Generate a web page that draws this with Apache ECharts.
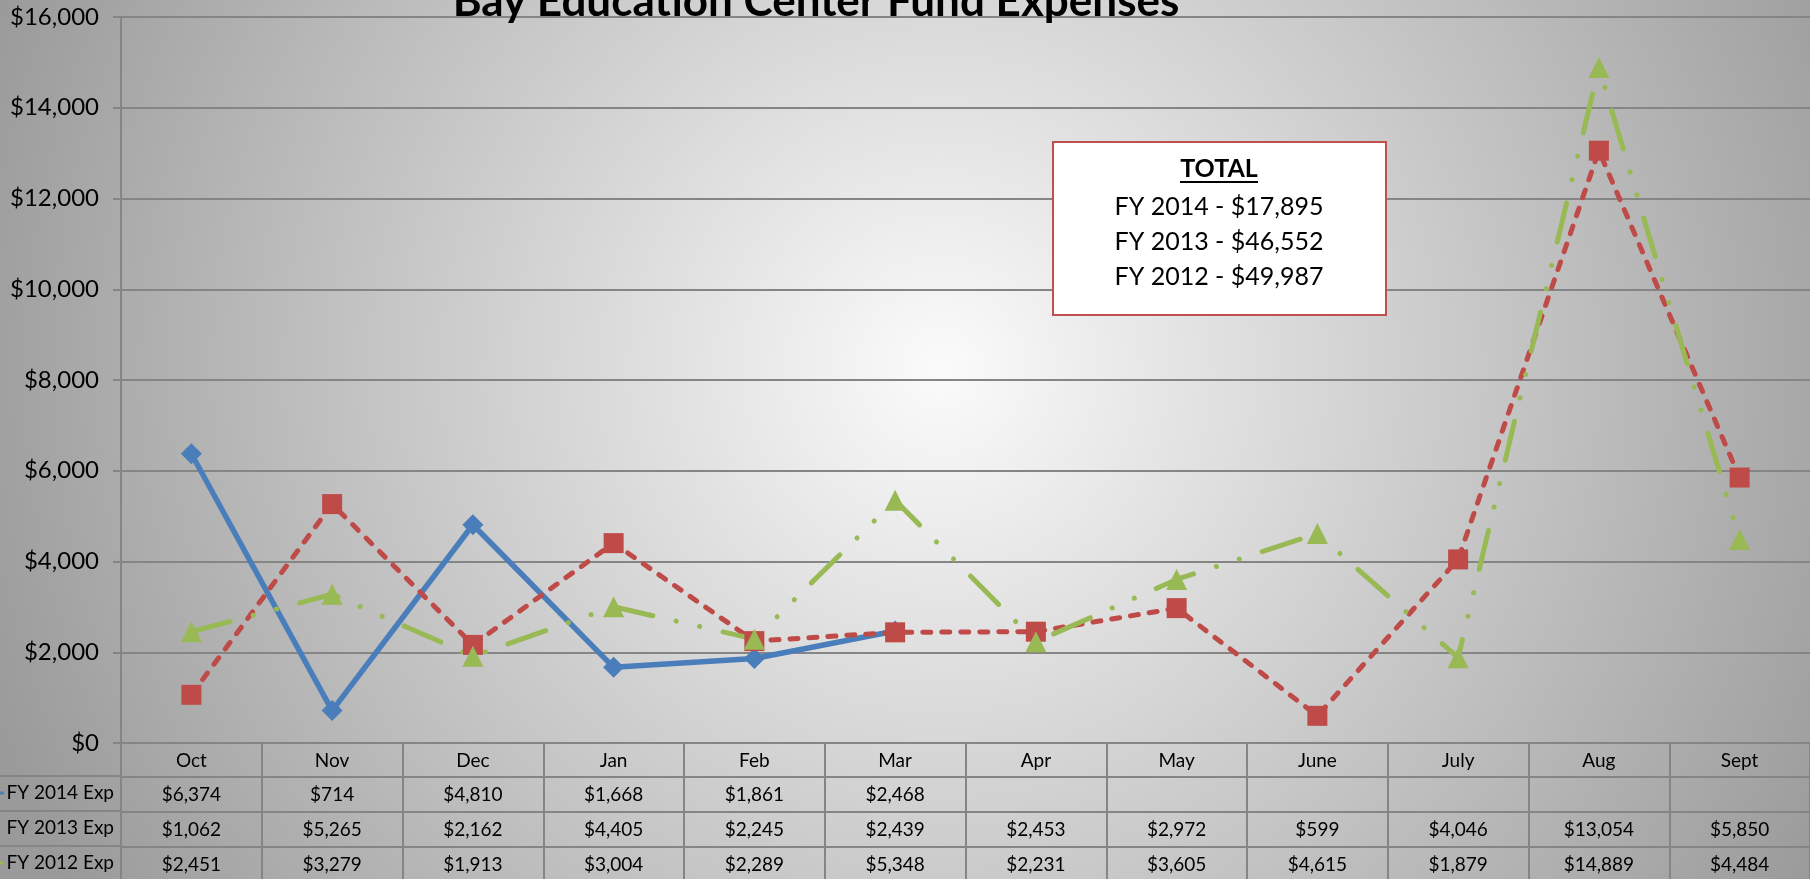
<!DOCTYPE html>
<html><head><meta charset="utf-8">
<script src="https://cdn.jsdelivr.net/npm/echarts@6/dist/echarts.min.js"></script>
<style>html,body{margin:0;padding:0;width:1810px;height:879px;overflow:hidden}#c{width:1810px;height:879px}</style>
</head><body><div id="c"></div>
<script>
const categories = ['Oct','Nov','Dec','Jan','Feb','Mar','Apr','May','June','July','Aug','Sept'];
const seriesNames = ['FY 2014 Exp','FY 2013 Exp','FY 2012 Exp'];
const fy2014 = [6374,714,4810,1668,1861,2468,null,null,null,null,null,null];
const fy2013 = [1062,5265,2162,4405,2245,2439,2453,2972,599,4046,13054,5850];
const fy2012 = [2451,3279,1913,3004,2289,5348,2231,3605,4615,1879,14889,4484];
const yMin = 0, yMax = 16000, yStep = 2000;
const titleText = 'Bay Education Center Fund Expenses';
const totalsHeader = 'TOTAL';
const totalLines = ['FY 2014 - $17,895','FY 2013 - $46,552','FY 2012 - $49,987'];

const rows = [fy2014, fy2013, fy2012];
const colors = ['#4a7ebb','#be4b48','#98b954'];
const gridCol = '#858585';
const FONT = 'Lato';
const fmt = v => '$' + Number(v).toLocaleString('en-US');

const chart = echarts.init(document.getElementById('c'), null, {renderer:'canvas'});

const rowAxes = rows.map((r, i) => ({
  type:'category', data: categories, gridIndex:0, position:'bottom', offset: 34 + 35*i,
  axisLine:{show:true, lineStyle:{color:gridCol, width:2}},
  axisTick:{show:true, interval:0, length:35, lineStyle:{color:gridCol, width:2}},
  axisLabel:{interval:0, margin:8, fontFamily:FONT, fontSize:19, lineHeight:20, color:'#000',
    formatter:(v, idx) => r[idx] == null ? '' : fmt(r[idx])}
}));

const graphics = [
  {type:'text', z:10, style:{x:816, y:24, text:titleText, font:'bold 44px ' + FONT, fill:'#000', align:'center', verticalAlign:'bottom'}},
  {type:'rect', z:10, shape:{x:1053, y:142, width:333, height:173}, style:{fill:'#fff', stroke:'#c0504d', lineWidth:2}},
  {type:'text', z:11, style:{x:1219, y:169, text:totalsHeader, font:'bold 25px ' + FONT, fill:'#000', align:'center', verticalAlign:'middle'}},
  {type:'line', z:11, shape:{x1:1180, y1:182, x2:1258, y2:182}, style:{stroke:'#000', lineWidth:2}},
];
totalLines.forEach((t, i) => graphics.push({type:'text', z:11,
  style:{x:1219, y:207 + 35*i, text:t, font:'25px ' + FONT, fill:'#000', align:'center', verticalAlign:'middle'}}));
seriesNames.forEach((n, i) => {
  graphics.push({type:'text', z:5, style:{x:114, y:793 + 35*i, text:n, font:'19px ' + FONT, fill:'#000', align:'right', verticalAlign:'middle'}});
  graphics.push({type:'line', z:5, shape:{x1:0, y1:776 + 35*i, x2:121, y2:776 + 35*i}, style:{stroke:gridCol, lineWidth:2}});
});
graphics.push({type:'line', z:5, shape:{x1:0, y1:793, x2:4, y2:793}, style:{stroke:colors[0], lineWidth:3}});
graphics.push({type:'line', z:5, shape:{x1:0, y1:863, x2:3, y2:863}, style:{stroke:colors[2], lineWidth:3}});

const option = {
  animation:false,
  backgroundColor:{type:'radial', x:0.52, y:0.42, r:1.15, colorStops:[{offset:0, color:'#fbfbfb'},{offset:1, color:'#9a9a9a'}]},
  grid:{left:121, right:-3, top:17, bottom:136, containLabel:false},
  xAxis:[{
    type:'category', data:categories, position:'bottom', boundaryGap:true,
    axisLine:{show:true, lineStyle:{color:gridCol, width:2}},
    axisTick:{show:true, interval:0, length:34, lineStyle:{color:gridCol, width:2}},
    axisLabel:{interval:0, margin:8, fontFamily:FONT, fontSize:19, lineHeight:20, color:'#000'},
    splitLine:{show:false}
  }].concat(rowAxes),
  yAxis:{type:'value', min:yMin, max:yMax, interval:yStep,
    axisLine:{show:true, lineStyle:{color:gridCol, width:2}},
    axisTick:{show:true, length:8, lineStyle:{color:gridCol, width:2}},
    axisLabel:{margin:22, fontFamily:FONT, fontSize:24, color:'#000', formatter:v => fmt(v)},
    splitLine:{show:true, lineStyle:{color:gridCol, width:2}}
  },
  series:[
    {name:seriesNames[0], type:'line', data:fy2014, xAxisIndex:0, symbol:'diamond', symbolSize:21, showAllSymbol:true,
     lineStyle:{color:colors[0], width:5.5}, itemStyle:{color:colors[0], borderWidth:0}},
    {name:seriesNames[1], type:'line', data:fy2013, xAxisIndex:0, symbol:'rect', symbolSize:20, showAllSymbol:true,
     lineStyle:{color:colors[1], width:5, type:[8,11], cap:'round'}, itemStyle:{color:colors[1], borderWidth:0}},
    {name:seriesNames[2], type:'line', data:fy2012, xAxisIndex:0, symbol:'triangle', symbolSize:21, showAllSymbol:true,
     lineStyle:{color:colors[2], width:5, type:[40,24,0.1,24,0.1,24], cap:'round'}, itemStyle:{color:colors[2], borderWidth:0}}
  ],
  graphic:graphics
};
chart.setOption(option);
</script></body></html>
